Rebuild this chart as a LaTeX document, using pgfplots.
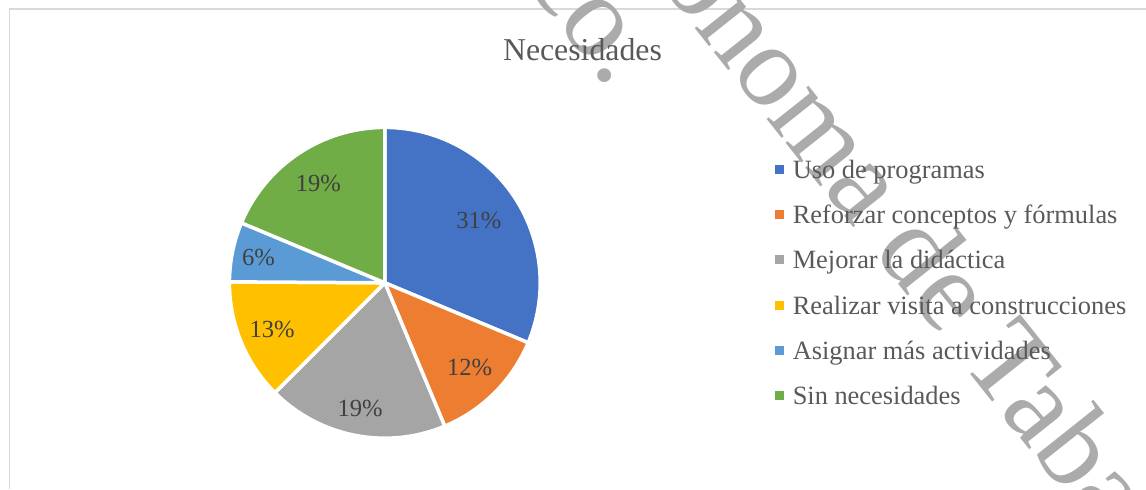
\documentclass[border=0pt]{standalone}
\usepackage{pgfplots}
\pgfplotsset{compat=1.18}
\usepackage{pgfplotstable}
\usepackage{fontspec}
\setmainfont{Liberation Serif}
\definecolor{c0}{HTML}{4472C4}
\definecolor{c1}{HTML}{ED7D31}
\definecolor{c2}{HTML}{A5A5A5}
\definecolor{c3}{HTML}{FFC000}
\definecolor{c4}{HTML}{5B9BD5}
\definecolor{c5}{HTML}{70AD47}
\definecolor{txt}{HTML}{595959}
\definecolor{lab}{HTML}{404040}
\definecolor{wm}{HTML}{ABABAB}
\definecolor{frame}{HTML}{D9D9D9}

\pgfplotstableread[col sep=comma]{
name,value,lr
Uso de programas,31.3,56.5
Reforzar conceptos y fórmulas,12.4,60
Mejorar la didáctica,18.8,63.9
Realizar visita a construcciones,12.6,60.9
Asignar más actividades,6.2,64.5
Sin necesidades,18.7,59.9
}\piedata

\begin{document}
\begin{tikzpicture}
\useasboundingbox (0,0) rectangle (573pt,244.5pt);
\draw[frame, line width=0.7pt] (4.75pt,0pt) -- (4.75pt,240pt) -- (573pt,240pt);
% watermark of the source document (beneath the chart)
\node[rotate=-51.5, anchor=base, text=wm, font=\fontsize{58.3}{60}\selectfont, inner sep=0pt] at (296.5pt,294.4pt) {Universidad Juárez Autónoma de Tabasco.};
\node[rotate=-51.5, anchor=base, text=wm, font=\fontsize{58.3}{60}\selectfont, inner sep=0pt] at (245pt,274.8pt) {México.};
\begin{axis}[
  at={(0pt,0pt)}, anchor=origin,
  scale only axis, width=573pt, height=244.5pt,
  xmin=0, xmax=1146, ymin=0, ymax=489,
  hide axis, clip=false,
  legend image code/.code={\fill[#1] (0pt,-2.25pt) rectangle (4.5pt,2.25pt);},
  legend cell align=left,
  legend style={draw=none, fill=none, at={(0.6763,0.6804)}, anchor=north west,
    inner sep=0pt, outer sep=0pt, font=\fontsize{13.2}{15}\selectfont, text=txt,
    row sep=9.65pt, column sep=4.35pt,
    nodes={inner sep=0pt, text height=11pt, text depth=2pt}},
]
\pgfmathsetmacro\startang{90}
\pgfplotsforeachungrouped \i in {0,...,5}{%
  \pgfplotstablegetelem{\i}{value}\of\piedata \let\v\pgfplotsretval
  \pgfplotstablegetelem{\i}{lr}\of\piedata \let\r\pgfplotsretval
  \pgfplotstablegetelem{\i}{name}\of\piedata \let\nm\pgfplotsretval
  \pgfmathsetmacro\endang{\startang-3.6*\v}
  \pgfmathsetmacro\midang{(\startang+\endang)/2}
  \pgfmathtruncatemacro\pct{round(\v)}
  \edef\temp{%
    \noexpand\fill[c\i, draw=white, line width=1.75pt, line join=round]
      (axis cs:384.8,206.2) -- ++(\startang:77.7pt)
      arc[start angle=\startang, end angle=\endang, radius=77.7pt] -- cycle;
    \noexpand\node[text=lab, font=\noexpand\fontsize{12.3}{14}\noexpand\selectfont,
      shift={(\midang:\r pt)}] at (axis cs:384.8,206.2) {\pct\noexpand\%};
    \noexpand\addlegendimage{fill=c\i, draw=none}
    \noexpand\addlegendentry{\nm}
  }\temp
  \global\let\startang\endang
}
\node[text=txt, font=\fontsize{15.9}{18}\selectfont, anchor=base] at (axis cs:582.5,429) {Necesidades};
\end{axis}
\end{tikzpicture}
\end{document}
